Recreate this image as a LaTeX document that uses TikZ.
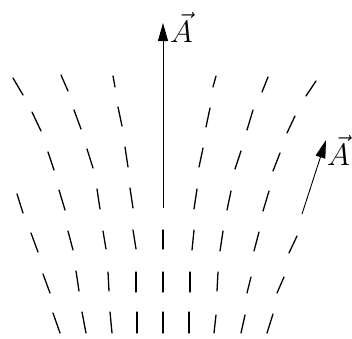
\RequirePackage{fix-cm}
\documentclass[tikz,border=0pt]{standalone}
\usetikzlibrary{arrows.meta}
\tikzset{
  fieldline/.style={line width=1.3pt,line cap=round},
  vecarrow/.style={line width=0.9pt,-{Triangle[length=18pt,width=10pt]}},
  veclabel/.style={font=\fontsize{31}{36}\selectfont,inner sep=0pt},
}
\begin{document}
\begin{tikzpicture}[x=1pt,y=-1pt]
\useasboundingbox (0,0) rectangle (352,338);
% field of short segments, row by row from the top
\foreach \xa/\ya/\xb/\yb in {
  13/78/23/95, 61/75/68/91, 113/76/115/87, 216/76/213/87, 268/77/262/92, 316/81/306/96,
  32/112/41/131, 74/110/81/129, 118/107/122/126, 210/108/206/127, 253/110/247/130, 295/116/287/133,
  48/152/54/170, 87/149/93/168, 125/147/128/167, 203/148/199/167, 241/151/235/169, 280/153/273/171,
  17/194/23/213, 59/190/65/210, 97/189/100/209, 130/188/133/208, 197/189/194/209, 231/191/227/210, 269/191/263/211,
  31/233/38/252, 68/231/73/250, 103/231/106/249, 133/230/136/249, 163/230/163/249, 194/230/192/250, 223/231/220/251, 259/232/254/251, 297/236/289/253,
  43/274/50/293, 76/271/79/291, 108/272/109/291, 136/272/136/292, 163/272/163/292, 190/272/190/292, 218/272/217/291, 251/277/247/293, 284/277/277/293,
  53/313/60/333, 82/312/86/333, 110/312/112/333, 137/312/137/333, 163/312/163/333, 189/312/189/333, 216/315/214/333, 245/315/241/333, 273/314/267/333}
  \draw[fieldline] (\xa,\ya) -- (\xb,\yb);

% long vector in the middle
\coordinate (midbase) at (163,208);
\coordinate (midtip) at (163,23);
\draw[vecarrow] (midbase) -- (midtip);
\node[veclabel,anchor=base west] (midlabel) at (170,42) {$\vec{A}$};

% tilted vector on the right
\coordinate (sidebase) at (302,214);
\coordinate (sidetip) at (326,140);
\draw[vecarrow] (sidebase) -- (sidetip);
\node[veclabel,anchor=base west] (sidelabel) at (327,165) {$\vec{A}$};
\end{tikzpicture}
\end{document}
